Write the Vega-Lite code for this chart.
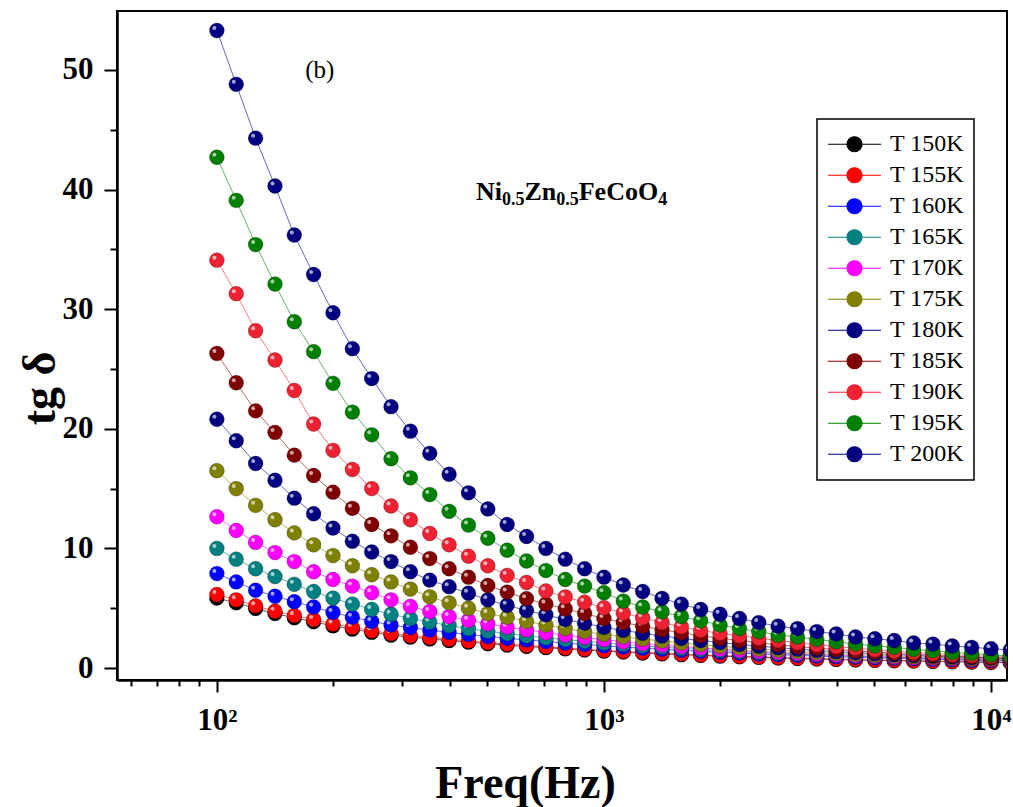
{
"$schema": "https://vega.github.io/schema/vega-lite/v6.json",
"width": 890, "height": 669,
"autosize": {"type": "none"},
"padding": {"left": 117, "top": 11, "right": 6, "bottom": 127},
"background": "white",
"config": {
  "font": "Liberation Serif",
  "view": {"stroke": "black", "strokeWidth": 2},
  "axis": {"grid": false, "domainColor": "black", "domainWidth": 2.5, "tickColor": "black", "tickWidth": 2,
    "labelFont": "Liberation Serif", "labelFontWeight": "bold", "labelFontSize": 31, "labelColor": "black",
    "titleFont": "Liberation Serif", "titleFontWeight": "bold", "titleFontSize": 46, "titleColor": "black"}
},
"layer": [
{
  "data": {"values": [
    {"f":100,"T 150K":5.85,"T 155K":6.15,"T 160K":7.9,"T 165K":10.0,"T 170K":12.65,"T 175K":16.5,"T 180K":20.8,"T 185K":26.3,"T 190K":34.1,"T 195K":42.7,"T 200K":53.3},
    {"f":112.2,"T 150K":5.45,"T 155K":5.7,"T 160K":7.2,"T 165K":9.1,"T 170K":11.5,"T 175K":15.0,"T 180K":19.0,"T 185K":23.85,"T 190K":31.3,"T 195K":39.1,"T 200K":48.8},
    {"f":125.9,"T 150K":4.98,"T 155K":5.2,"T 160K":6.5,"T 165K":8.3,"T 170K":10.5,"T 175K":13.6,"T 180K":17.1,"T 185K":21.5,"T 190K":28.2,"T 195K":35.4,"T 200K":44.3},
    {"f":141.3,"T 150K":4.55,"T 155K":4.75,"T 160K":6.0,"T 165K":7.65,"T 170K":9.65,"T 175K":12.4,"T 180K":15.7,"T 185K":19.7,"T 190K":25.75,"T 195K":32.1,"T 200K":40.3},
    {"f":158.5,"T 150K":4.2,"T 155K":4.4,"T 160K":5.55,"T 165K":7.0,"T 170K":8.9,"T 175K":11.3,"T 180K":14.2,"T 185K":17.8,"T 190K":23.2,"T 195K":28.95,"T 200K":36.2},
    {"f":177.8,"T 150K":3.87,"T 155K":4.05,"T 160K":5.1,"T 165K":6.4,"T 170K":8.05,"T 175K":10.3,"T 180K":12.9,"T 185K":16.1,"T 190K":20.4,"T 195K":26.45,"T 200K":32.9},
    {"f":199.5,"T 150K":3.52,"T 155K":3.68,"T 160K":4.65,"T 165K":5.85,"T 170K":7.4,"T 175K":9.4,"T 180K":11.7,"T 185K":14.7,"T 190K":18.2,"T 195K":23.8,"T 200K":29.7},
    {"f":223.9,"T 150K":3.25,"T 155K":3.4,"T 160K":4.25,"T 165K":5.35,"T 170K":6.85,"T 175K":8.55,"T 180K":10.6,"T 185K":13.35,"T 190K":16.6,"T 195K":21.4,"T 200K":26.7},
    {"f":251.2,"T 150K":2.98,"T 155K":3.12,"T 160K":3.9,"T 165K":4.9,"T 170K":6.3,"T 175K":7.8,"T 180K":9.7,"T 185K":12.0,"T 190K":15.0,"T 195K":19.5,"T 200K":24.2},
    {"f":281.8,"T 150K":2.75,"T 155K":2.88,"T 160K":3.6,"T 165K":4.5,"T 170K":5.7,"T 175K":7.2,"T 180K":8.9,"T 185K":11.05,"T 190K":13.55,"T 195K":17.5,"T 200K":21.85},
    {"f":316.2,"T 150K":2.58,"T 155K":2.7,"T 160K":3.38,"T 165K":4.15,"T 170K":5.15,"T 175K":6.6,"T 180K":8.05,"T 185K":10.1,"T 190K":12.4,"T 195K":15.9,"T 200K":19.8},
    {"f":354.8,"T 150K":2.43,"T 155K":2.55,"T 160K":3.17,"T 165K":3.85,"T 170K":4.72,"T 175K":5.95,"T 180K":7.35,"T 185K":9.15,"T 190K":11.25,"T 195K":14.5,"T 200K":17.95},
    {"f":398.1,"T 150K":2.29,"T 155K":2.4,"T 160K":2.98,"T 165K":3.55,"T 170K":4.3,"T 175K":5.45,"T 180K":6.8,"T 185K":8.3,"T 190K":10.3,"T 195K":13.1,"T 200K":16.2},
    {"f":446.7,"T 150K":2.16,"T 155K":2.26,"T 160K":2.8,"T 165K":3.3,"T 170K":4.0,"T 175K":5.0,"T 180K":6.25,"T 185K":7.6,"T 190K":9.35,"T 195K":11.95,"T 200K":14.65},
    {"f":501.2,"T 150K":2.03,"T 155K":2.13,"T 160K":2.64,"T 165K":3.08,"T 170K":3.7,"T 175K":4.55,"T 180K":5.7,"T 185K":6.9,"T 190K":8.55,"T 195K":10.85,"T 200K":13.3},
    {"f":562.3,"T 150K":1.91,"T 155K":2.0,"T 160K":2.49,"T 165K":2.88,"T 170K":3.42,"T 175K":4.25,"T 180K":5.25,"T 185K":6.35,"T 190K":7.75,"T 195K":9.85,"T 200K":12.0},
    {"f":631.0,"T 150K":1.8,"T 155K":1.89,"T 160K":2.35,"T 165K":2.7,"T 170K":3.2,"T 175K":3.9,"T 180K":4.8,"T 185K":5.8,"T 190K":7.15,"T 195K":8.95,"T 200K":11.0},
    {"f":707.9,"T 150K":1.7,"T 155K":1.78,"T 160K":2.22,"T 165K":2.53,"T 170K":2.95,"T 175K":3.6,"T 180K":4.45,"T 185K":5.35,"T 190K":6.45,"T 195K":8.15,"T 200K":10.0},
    {"f":794.3,"T 150K":1.6,"T 155K":1.67,"T 160K":2.09,"T 165K":2.38,"T 170K":2.75,"T 175K":3.3,"T 180K":4.05,"T 185K":4.95,"T 190K":5.95,"T 195K":7.4,"T 200K":9.1},
    {"f":891.3,"T 150K":1.5,"T 155K":1.57,"T 160K":1.97,"T 165K":2.24,"T 170K":2.55,"T 175K":3.05,"T 180K":3.75,"T 185K":4.55,"T 190K":5.5,"T 195K":6.85,"T 200K":8.3},
    {"f":1000,"T 150K":1.41,"T 155K":1.47,"T 160K":1.86,"T 165K":2.1,"T 170K":2.37,"T 175K":2.82,"T 180K":3.4,"T 185K":4.15,"T 190K":5.05,"T 195K":6.3,"T 200K":7.6},
    {"f":1122,"T 150K":1.33,"T 155K":1.39,"T 160K":1.76,"T 165K":1.98,"T 170K":2.2,"T 175K":2.62,"T 180K":3.15,"T 185K":3.8,"T 190K":4.6,"T 195K":5.6,"T 200K":6.94},
    {"f":1259,"T 150K":1.25,"T 155K":1.31,"T 160K":1.66,"T 165K":1.86,"T 170K":2.05,"T 175K":2.43,"T 180K":2.9,"T 185K":3.5,"T 190K":4.2,"T 195K":5.1,"T 200K":6.4},
    {"f":1413,"T 150K":1.18,"T 155K":1.24,"T 160K":1.57,"T 165K":1.75,"T 170K":1.92,"T 175K":2.26,"T 180K":2.68,"T 185K":3.2,"T 190K":3.8,"T 195K":4.7,"T 200K":5.83},
    {"f":1585,"T 150K":1.11,"T 155K":1.17,"T 160K":1.48,"T 165K":1.65,"T 170K":1.8,"T 175K":2.1,"T 180K":2.48,"T 185K":2.95,"T 190K":3.45,"T 195K":4.3,"T 200K":5.35},
    {"f":1778,"T 150K":1.05,"T 155K":1.1,"T 160K":1.4,"T 165K":1.55,"T 170K":1.68,"T 175K":1.96,"T 180K":2.3,"T 185K":2.7,"T 190K":3.15,"T 195K":3.95,"T 200K":4.9},
    {"f":1995,"T 150K":0.99,"T 155K":1.04,"T 160K":1.32,"T 165K":1.46,"T 170K":1.58,"T 175K":1.83,"T 180K":2.13,"T 185K":2.5,"T 190K":2.9,"T 195K":3.6,"T 200K":4.5},
    {"f":2239,"T 150K":0.94,"T 155K":0.98,"T 160K":1.25,"T 165K":1.38,"T 170K":1.48,"T 175K":1.7,"T 180K":1.97,"T 185K":2.3,"T 190K":2.7,"T 195K":3.3,"T 200K":4.15},
    {"f":2512,"T 150K":0.89,"T 155K":0.93,"T 160K":1.18,"T 165K":1.3,"T 170K":1.39,"T 175K":1.59,"T 180K":1.83,"T 185K":2.1,"T 190K":2.5,"T 195K":3.05,"T 200K":3.8},
    {"f":2818,"T 150K":0.84,"T 155K":0.88,"T 160K":1.12,"T 165K":1.23,"T 170K":1.31,"T 175K":1.49,"T 180K":1.7,"T 185K":1.95,"T 190K":2.3,"T 195K":2.75,"T 200K":3.5},
    {"f":3162,"T 150K":0.79,"T 155K":0.83,"T 160K":1.06,"T 165K":1.16,"T 170K":1.23,"T 175K":1.39,"T 180K":1.58,"T 185K":1.8,"T 190K":2.12,"T 195K":2.6,"T 200K":3.3},
    {"f":3548,"T 150K":0.75,"T 155K":0.79,"T 160K":1.0,"T 165K":1.1,"T 170K":1.16,"T 175K":1.3,"T 180K":1.47,"T 185K":1.67,"T 190K":1.95,"T 195K":2.4,"T 200K":3.05},
    {"f":3981,"T 150K":0.71,"T 155K":0.75,"T 160K":0.95,"T 165K":1.04,"T 170K":1.09,"T 175K":1.22,"T 180K":1.37,"T 185K":1.55,"T 190K":1.8,"T 195K":2.2,"T 200K":2.85},
    {"f":4467,"T 150K":0.67,"T 155K":0.71,"T 160K":0.9,"T 165K":0.98,"T 170K":1.03,"T 175K":1.14,"T 180K":1.28,"T 185K":1.43,"T 190K":1.66,"T 195K":2.0,"T 200K":2.6},
    {"f":5012,"T 150K":0.64,"T 155K":0.67,"T 160K":0.85,"T 165K":0.93,"T 170K":0.97,"T 175K":1.07,"T 180K":1.2,"T 185K":1.33,"T 190K":1.53,"T 195K":1.85,"T 200K":2.45},
    {"f":5623,"T 150K":0.61,"T 155K":0.64,"T 160K":0.81,"T 165K":0.88,"T 170K":0.92,"T 175K":1.01,"T 180K":1.12,"T 185K":1.24,"T 190K":1.42,"T 195K":1.73,"T 200K":2.3},
    {"f":6310,"T 150K":0.58,"T 155K":0.61,"T 160K":0.77,"T 165K":0.83,"T 170K":0.87,"T 175K":0.95,"T 180K":1.05,"T 185K":1.15,"T 190K":1.31,"T 195K":1.55,"T 200K":2.1},
    {"f":7079,"T 150K":0.55,"T 155K":0.58,"T 160K":0.73,"T 165K":0.79,"T 170K":0.82,"T 175K":0.9,"T 180K":0.99,"T 185K":1.07,"T 190K":1.22,"T 195K":1.45,"T 200K":2.0},
    {"f":7943,"T 150K":0.52,"T 155K":0.55,"T 160K":0.69,"T 165K":0.75,"T 170K":0.78,"T 175K":0.85,"T 180K":0.93,"T 185K":1.0,"T 190K":1.13,"T 195K":1.3,"T 200K":1.85},
    {"f":8913,"T 150K":0.5,"T 155K":0.52,"T 160K":0.65,"T 165K":0.71,"T 170K":0.74,"T 175K":0.8,"T 180K":0.88,"T 185K":0.93,"T 190K":1.05,"T 195K":1.23,"T 200K":1.73},
    {"f":10000,"T 150K":0.47,"T 155K":0.5,"T 160K":0.62,"T 165K":0.67,"T 170K":0.7,"T 175K":0.76,"T 180K":0.83,"T 185K":0.87,"T 190K":0.98,"T 195K":1.1,"T 200K":1.62},
    {"f":11220,"T 150K":0.45,"T 155K":0.47,"T 160K":0.59,"T 165K":0.63,"T 170K":0.66,"T 175K":0.72,"T 180K":0.78,"T 185K":0.82,"T 190K":0.92,"T 195K":1.0,"T 200K":1.5}
  ]},
  "transform": [{"fold": ["T 150K","T 155K","T 160K","T 165K","T 170K","T 175K","T 180K","T 185K","T 190K","T 195K","T 200K"], "as": ["T","v"]}],
  "encoding": {
    "x": {"field": "f", "type": "quantitative",
      "scale": {"type": "log", "domain": [55.2, 11000], "nice": false},
      "axis": {"values": [60,70,80,90,100,200,300,400,500,600,700,800,900,1000,2000,3000,4000,5000,6000,7000,8000,9000,10000],
        "labelExpr": "datum.value == 100 ? '10²' : datum.value == 1000 ? '10³' : datum.value == 10000 ? '10⁴' : ''",
        "tickSize": {"condition": {"test": "datum.value == 100 || datum.value == 1000 || datum.value == 10000", "value": 12}, "value": 6},
        "labelFontSize": 31, "labelFont": "Liberation Serif", "labelFontWeight": "bold",
        "labelPadding": 13, "labelOverlap": false, "labelFlush": false,
        "title": "Freq(Hz)", "titleX": 408, "titleY": 117, "titleBaseline": "alphabetic", "titleAlign": "center"}},
    "y": {"field": "v", "type": "quantitative",
      "scale": {"domain": [-1, 54.93], "nice": false, "zero": false},
      "axis": {"values": [0,5,10,15,20,25,30,35,40,45,50],
        "labelExpr": "datum.value % 10 == 0 ? datum.label : ''",
        "tickSize": {"condition": {"test": "datum.value % 10 == 0", "value": 13}, "value": 7},
        "labelFontSize": 31, "labelFont": "Liberation Serif", "labelFontWeight": "bold",
        "labelPadding": 11, "labelOverlap": false, "labelFlush": false,
        "title": "tg δ", "titleAngle": -90, "titleX": -77, "titleY": 377, "titleAlign": "center", "titleBaseline": "middle"}},
    "color": {"field": "T", "type": "nominal",
      "scale": {"domain": ["T 150K","T 155K","T 160K","T 165K","T 170K","T 175K","T 180K","T 185K","T 190K","T 195K","T 200K"],
                "range": ["#000000","#FF0000","#0000FF","#008080","#FF00FF","#808000","#000080","#800000","#EE2233","#008000","#000080"]},
      "legend": {"orient": "none", "legendX": 700, "legendY": 108, "title": null,
        "symbolType": "M-1,0H-0.283M0.283,0H1M-0.283,0A0.283,0.283,0,1,1,0.283,0A0.283,0.283,0,1,1,-0.283,0Z",
        "symbolSize": 2809, "symbolStrokeWidth": 1.2, "symbolOpacity": 1,
        "labelFont": "Liberation Serif", "labelFontSize": 24, "labelColor": "black", "labelOffset": 8,
        "padding": 10, "rowPadding": 0, "clipHeight": 30.5,
        "strokeColor": "black", "fillColor": "white",
        "encode": {
          "legend": {"update": {"strokeWidth": {"value": 1.5}}},
          "symbols": {"update": {"fill": {"scale": "color", "field": "value"}, "stroke": {"scale": "color", "field": "value"}, "opacity": {"value": 1}, "fillOpacity": {"value": 1}, "strokeOpacity": {"value": 1}}}}}}
  },
  "layer": [
    {"mark": {"type": "line", "strokeWidth": 1, "opacity": 0.6, "clip": true}},
    {"transform": [{"filter": {"field": "T", "equal": "T 150K"}}], "mark": {"type": "point", "filled": true, "size": 220, "opacity": 1, "stroke": "black", "strokeOpacity": 0.25, "strokeWidth": 1, "clip": true}},
    {"transform": [{"filter": {"field": "T", "equal": "T 150K"}}], "mark": {"type": "point", "filled": true, "size": 16, "opacity": 0.65, "xOffset": -2.5, "yOffset": -2.5, "clip": true}, "encoding": {"fill": {"value": "white"}}},
    {"transform": [{"filter": {"field": "T", "equal": "T 155K"}}], "mark": {"type": "point", "filled": true, "size": 220, "opacity": 1, "stroke": "black", "strokeOpacity": 0.25, "strokeWidth": 1, "clip": true}},
    {"transform": [{"filter": {"field": "T", "equal": "T 155K"}}], "mark": {"type": "point", "filled": true, "size": 16, "opacity": 0.65, "xOffset": -2.5, "yOffset": -2.5, "clip": true}, "encoding": {"fill": {"value": "white"}}},
    {"transform": [{"filter": {"field": "T", "equal": "T 160K"}}], "mark": {"type": "point", "filled": true, "size": 220, "opacity": 1, "stroke": "black", "strokeOpacity": 0.25, "strokeWidth": 1, "clip": true}},
    {"transform": [{"filter": {"field": "T", "equal": "T 160K"}}], "mark": {"type": "point", "filled": true, "size": 16, "opacity": 0.65, "xOffset": -2.5, "yOffset": -2.5, "clip": true}, "encoding": {"fill": {"value": "white"}}},
    {"transform": [{"filter": {"field": "T", "equal": "T 165K"}}], "mark": {"type": "point", "filled": true, "size": 220, "opacity": 1, "stroke": "black", "strokeOpacity": 0.25, "strokeWidth": 1, "clip": true}},
    {"transform": [{"filter": {"field": "T", "equal": "T 165K"}}], "mark": {"type": "point", "filled": true, "size": 16, "opacity": 0.65, "xOffset": -2.5, "yOffset": -2.5, "clip": true}, "encoding": {"fill": {"value": "white"}}},
    {"transform": [{"filter": {"field": "T", "equal": "T 170K"}}], "mark": {"type": "point", "filled": true, "size": 220, "opacity": 1, "stroke": "black", "strokeOpacity": 0.25, "strokeWidth": 1, "clip": true}},
    {"transform": [{"filter": {"field": "T", "equal": "T 170K"}}], "mark": {"type": "point", "filled": true, "size": 16, "opacity": 0.65, "xOffset": -2.5, "yOffset": -2.5, "clip": true}, "encoding": {"fill": {"value": "white"}}},
    {"transform": [{"filter": {"field": "T", "equal": "T 175K"}}], "mark": {"type": "point", "filled": true, "size": 220, "opacity": 1, "stroke": "black", "strokeOpacity": 0.25, "strokeWidth": 1, "clip": true}},
    {"transform": [{"filter": {"field": "T", "equal": "T 175K"}}], "mark": {"type": "point", "filled": true, "size": 16, "opacity": 0.65, "xOffset": -2.5, "yOffset": -2.5, "clip": true}, "encoding": {"fill": {"value": "white"}}},
    {"transform": [{"filter": {"field": "T", "equal": "T 180K"}}], "mark": {"type": "point", "filled": true, "size": 220, "opacity": 1, "stroke": "black", "strokeOpacity": 0.25, "strokeWidth": 1, "clip": true}},
    {"transform": [{"filter": {"field": "T", "equal": "T 180K"}}], "mark": {"type": "point", "filled": true, "size": 16, "opacity": 0.65, "xOffset": -2.5, "yOffset": -2.5, "clip": true}, "encoding": {"fill": {"value": "white"}}},
    {"transform": [{"filter": {"field": "T", "equal": "T 185K"}}], "mark": {"type": "point", "filled": true, "size": 220, "opacity": 1, "stroke": "black", "strokeOpacity": 0.25, "strokeWidth": 1, "clip": true}},
    {"transform": [{"filter": {"field": "T", "equal": "T 185K"}}], "mark": {"type": "point", "filled": true, "size": 16, "opacity": 0.65, "xOffset": -2.5, "yOffset": -2.5, "clip": true}, "encoding": {"fill": {"value": "white"}}},
    {"transform": [{"filter": {"field": "T", "equal": "T 190K"}}], "mark": {"type": "point", "filled": true, "size": 220, "opacity": 1, "stroke": "black", "strokeOpacity": 0.25, "strokeWidth": 1, "clip": true}},
    {"transform": [{"filter": {"field": "T", "equal": "T 190K"}}], "mark": {"type": "point", "filled": true, "size": 16, "opacity": 0.65, "xOffset": -2.5, "yOffset": -2.5, "clip": true}, "encoding": {"fill": {"value": "white"}}},
    {"transform": [{"filter": {"field": "T", "equal": "T 195K"}}], "mark": {"type": "point", "filled": true, "size": 220, "opacity": 1, "stroke": "black", "strokeOpacity": 0.25, "strokeWidth": 1, "clip": true}},
    {"transform": [{"filter": {"field": "T", "equal": "T 195K"}}], "mark": {"type": "point", "filled": true, "size": 16, "opacity": 0.65, "xOffset": -2.5, "yOffset": -2.5, "clip": true}, "encoding": {"fill": {"value": "white"}}},
    {"transform": [{"filter": {"field": "T", "equal": "T 200K"}}], "mark": {"type": "point", "filled": true, "size": 220, "opacity": 1, "stroke": "black", "strokeOpacity": 0.25, "strokeWidth": 1, "clip": true}},
    {"transform": [{"filter": {"field": "T", "equal": "T 200K"}}], "mark": {"type": "point", "filled": true, "size": 16, "opacity": 0.65, "xOffset": -2.5, "yOffset": -2.5, "clip": true}, "encoding": {"fill": {"value": "white"}}}
  ]
},
{
  "data": {"values": [{}]},
  "mark": {"type": "text", "font": "Liberation Serif", "fontSize": 25, "color": "black", "align": "center", "baseline": "middle"},
  "encoding": {"x": {"datum": 184.5, "type": "quantitative", "scale": {"type": "log"}}, "y": {"datum": 50, "type": "quantitative"}, "text": {"value": "(b)"}}
},
{
  "data": {"values": [{}]},
  "encoding": {"x": {"datum": 467, "type": "quantitative", "scale": {"type": "log"}}, "y": {"datum": 39.13, "type": "quantitative"}},
  "layer": [
    {"mark": {"type": "text", "font": "Liberation Serif", "fontSize": 26, "fontWeight": "bold", "color": "black", "align": "left", "baseline": "alphabetic", "dx": 0}, "encoding": {"text": {"value": "Ni"}}},
    {"mark": {"type": "text", "font": "Liberation Serif", "fontSize": 18, "fontWeight": "bold", "color": "black", "align": "left", "baseline": "alphabetic", "dx": 26, "dy": 5}, "encoding": {"text": {"value": "0.5"}}},
    {"mark": {"type": "text", "font": "Liberation Serif", "fontSize": 26, "fontWeight": "bold", "color": "black", "align": "left", "baseline": "alphabetic", "dx": 48.5}, "encoding": {"text": {"value": "Zn"}}},
    {"mark": {"type": "text", "font": "Liberation Serif", "fontSize": 18, "fontWeight": "bold", "color": "black", "align": "left", "baseline": "alphabetic", "dx": 80.3, "dy": 5}, "encoding": {"text": {"value": "0.5"}}},
    {"mark": {"type": "text", "font": "Liberation Serif", "fontSize": 26, "fontWeight": "bold", "color": "black", "align": "left", "baseline": "alphabetic", "dx": 102.8}, "encoding": {"text": {"value": "FeCoO"}}},
    {"mark": {"type": "text", "font": "Liberation Serif", "fontSize": 18, "fontWeight": "bold", "color": "black", "align": "left", "baseline": "alphabetic", "dx": 182.2, "dy": 5}, "encoding": {"text": {"value": "4"}}}
  ]
}
]
}
